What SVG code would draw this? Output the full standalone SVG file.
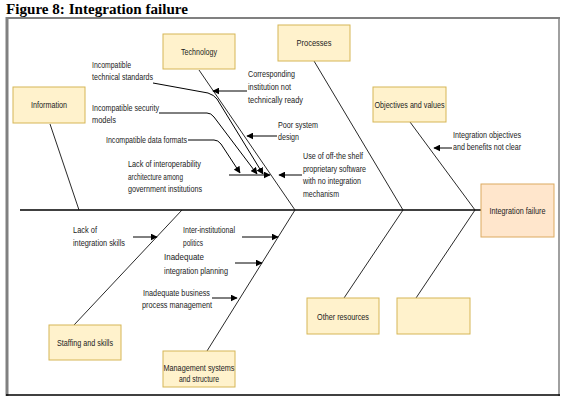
<svg xmlns="http://www.w3.org/2000/svg" width="566" height="404" viewBox="0 0 566 404">
<defs>
<marker id="ah" viewBox="0 0 10 10" refX="9" refY="5" markerWidth="7" markerHeight="7" markerUnits="userSpaceOnUse" orient="auto">
<path d="M0,0 L10,5 L0,10 Z" fill="#000"/>
</marker>
<style>
.box{fill:#fff2cc;stroke:#d6b656;stroke-width:1}
.head{fill:#ffe6cc;stroke:#dcaa60;stroke-width:1}
.t{font-family:"Liberation Sans",Arial,sans-serif;font-size:9.5px;fill:#222}
.c{text-anchor:middle}
.bone{stroke:#111;stroke-width:0.9;fill:none}
.arr{stroke:#000;stroke-width:1;fill:none;marker-end:url(#ah)}
</style>
</defs>
<rect width="566" height="404" fill="#fff"/>
<text x="6" y="13.5" font-family="'Liberation Serif','Times New Roman',serif" font-weight="bold" font-size="15" fill="#000" textLength="182" lengthAdjust="spacingAndGlyphs">Figure 8: Integration failure</text>
<g id="frame" fill="none">
<line x1="6" y1="18" x2="560" y2="18" stroke="#808080" stroke-width="2"/>
<line x1="7" y1="17" x2="7" y2="396" stroke="#808080" stroke-width="3"/>
<line x1="559" y1="17" x2="559" y2="396" stroke="#808080" stroke-width="1.5"/>
<line x1="6" y1="395" x2="560" y2="395" stroke="#000" stroke-width="1.5"/>
</g>
<g id="connectors">
<line x1="20" y1="210" x2="481" y2="210" stroke="#000" stroke-width="1.5"/>
<line class="bone" x1="50" y1="124" x2="79" y2="210"/>
<line class="bone" x1="199" y1="70" x2="295" y2="210"/>
<line class="bone" x1="314" y1="61" x2="403" y2="210"/>
<line class="bone" x1="410" y1="122" x2="475" y2="210"/>
<line class="bone" x1="182" y1="210" x2="74" y2="325"/>
<line class="bone" x1="295" y1="210" x2="207" y2="351"/>
<line class="bone" x1="403" y1="210" x2="344" y2="298"/>
<line class="bone" x1="475" y1="210" x2="416" y2="298"/>
<path class="arr" d="M153,83 L208,93 Q214,95 217,99 L263,174"/>
<path class="arr" d="M159,113 L207,113 Q211,113 214,117 L257,174"/>
<path class="arr" d="M188,140 L214,140 Q218,140 221,144 L240,173"/>
<path class="arr" d="M229,175 L270,175"/>
<path class="arr" d="M302,175 L279,175"/>
<path class="arr" d="M247,91 L213,91"/>
<path class="arr" d="M277,136 L247,136"/>
<path class="arr" d="M452,148 L434,148"/>
<path class="arr" d="M133,237 L157,237"/>
<path class="arr" d="M242,237 L278,237"/>
<path class="arr" d="M235,263 L262,263"/>
<path class="arr" d="M212,298 L237,298"/>
</g>
<g id="labels">
<text class="t" x="92" y="68" textLength="39" lengthAdjust="spacingAndGlyphs">Incompatible</text>
<text class="t" x="92" y="80" textLength="61" lengthAdjust="spacingAndGlyphs">technical standards</text>
<text class="t" x="92" y="111" textLength="67" lengthAdjust="spacingAndGlyphs">Incompatible security</text>
<text class="t" x="92" y="123" textLength="24" lengthAdjust="spacingAndGlyphs">models</text>
<text class="t" x="106" y="143" textLength="81" lengthAdjust="spacingAndGlyphs">Incompatible data formats</text>
<text class="t" x="128" y="167" textLength="73" lengthAdjust="spacingAndGlyphs">Lack of interoperability</text>
<text class="t" x="128" y="180" textLength="55" lengthAdjust="spacingAndGlyphs">architecture among</text>
<text class="t" x="128" y="192" textLength="74" lengthAdjust="spacingAndGlyphs">government institutions</text>
<text class="t" x="248" y="77" textLength="47" lengthAdjust="spacingAndGlyphs">Corresponding</text>
<text class="t" x="248" y="90" textLength="43" lengthAdjust="spacingAndGlyphs">institution not</text>
<text class="t" x="248" y="103" textLength="55" lengthAdjust="spacingAndGlyphs">technically ready</text>
<text class="t" x="278" y="128" textLength="40" lengthAdjust="spacingAndGlyphs">Poor system</text>
<text class="t" x="278" y="140" textLength="21" lengthAdjust="spacingAndGlyphs">design</text>
<text class="t" x="303" y="159" textLength="60" lengthAdjust="spacingAndGlyphs">Use of off-the shelf</text>
<text class="t" x="303" y="171.5" textLength="63" lengthAdjust="spacingAndGlyphs">proprietary software</text>
<text class="t" x="303" y="184" textLength="58" lengthAdjust="spacingAndGlyphs">with no integration</text>
<text class="t" x="303" y="196.5" textLength="36" lengthAdjust="spacingAndGlyphs">mechanism</text>
<text class="t" x="453" y="138" textLength="68" lengthAdjust="spacingAndGlyphs">Integration objectives</text>
<text class="t" x="453" y="150" textLength="68" lengthAdjust="spacingAndGlyphs">and benefits not clear</text>
<text class="t" x="73" y="233" textLength="24" lengthAdjust="spacingAndGlyphs">Lack of</text>
<text class="t" x="73" y="246" textLength="52" lengthAdjust="spacingAndGlyphs">integration skills</text>
<text class="t" x="183" y="233" textLength="52" lengthAdjust="spacingAndGlyphs">Inter-institutional</text>
<text class="t" x="183" y="246" textLength="20" lengthAdjust="spacingAndGlyphs">politics</text>
<text class="t" x="164" y="260" textLength="40" lengthAdjust="spacingAndGlyphs">Inadequate</text>
<text class="t" x="164" y="274" textLength="64" lengthAdjust="spacingAndGlyphs">integration planning</text>
<text class="t" x="143" y="296" textLength="67" lengthAdjust="spacingAndGlyphs">Inadequate business</text>
<text class="t" x="142" y="308" textLength="70" lengthAdjust="spacingAndGlyphs">process management</text>
</g>
<g id="technology"><rect class="box" x="163" y="34" width="72" height="35"/><text class="t c" x="199" y="55" textLength="36" lengthAdjust="spacingAndGlyphs">Technology</text></g>
<g id="processes"><rect class="box" x="278" y="25" width="72" height="36"/><text class="t c" x="314" y="46" textLength="35" lengthAdjust="spacingAndGlyphs">Processes</text></g>
<g id="objectives"><rect class="box" x="373" y="87" width="73" height="35"/><text class="t c" x="409.5" y="108" textLength="70" lengthAdjust="spacingAndGlyphs">Objectives and values</text></g>
<g id="information"><rect class="box" x="13" y="87" width="72" height="36"/><text class="t c" x="49" y="108" textLength="36" lengthAdjust="spacingAndGlyphs">Information</text></g>
<g id="integration-failure"><rect class="head" x="481" y="184" width="73" height="53"/><text class="t c" x="517.5" y="214" textLength="56" lengthAdjust="spacingAndGlyphs">Integration failure</text></g>
<g id="staffing"><rect class="box" x="49" y="325" width="72" height="35"/><text class="t c" x="85" y="346" textLength="56" lengthAdjust="spacingAndGlyphs">Staffing and skills</text></g>
<g id="management"><rect class="box" x="163" y="351" width="72" height="36"/><text class="t c" x="199" y="371" textLength="71" lengthAdjust="spacingAndGlyphs">Management systems</text><text class="t c" x="199" y="381.5" textLength="40" lengthAdjust="spacingAndGlyphs">and structure</text></g>
<g id="other-resources"><rect class="box" x="307" y="298" width="72" height="36"/><text class="t c" x="343" y="320" textLength="52" lengthAdjust="spacingAndGlyphs">Other resources</text></g>
<g id="empty-box"><rect class="box" x="397" y="298" width="73" height="36"/></g>
</svg>
